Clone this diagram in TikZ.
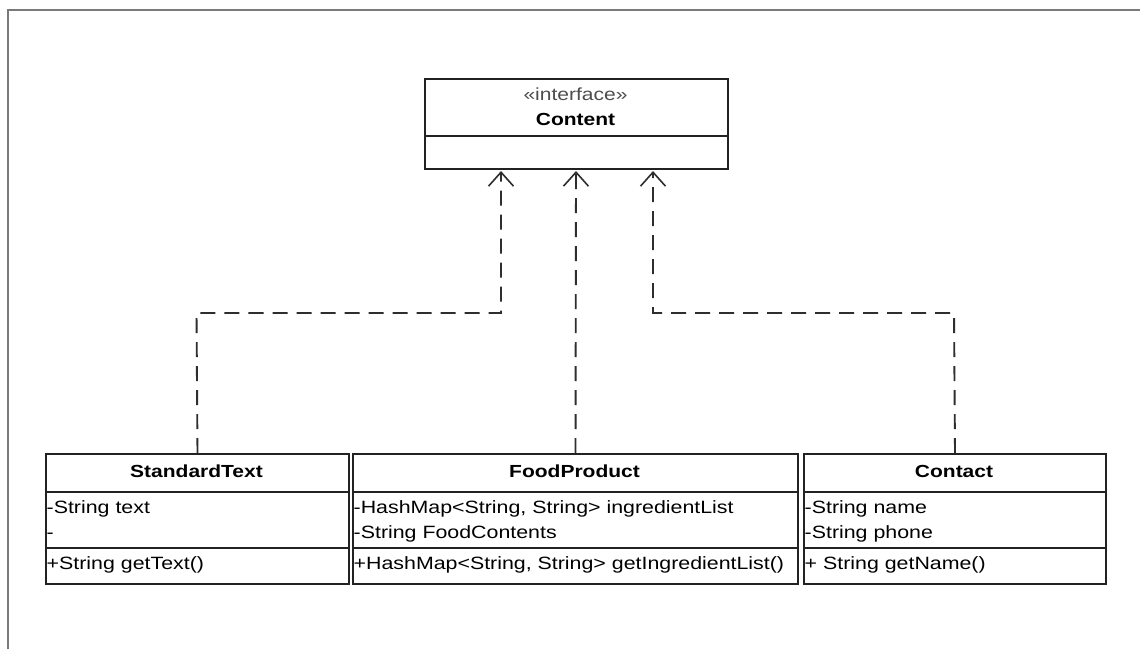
\documentclass[tikz,border=0pt]{standalone}
\usepackage{fontspec}
\setmainfont{Liberation Sans}[FakeStretch=1.2]
\usetikzlibrary{arrows.meta}
\definecolor{boxc}{HTML}{222222}
\definecolor{framec}{HTML}{7A7A7A}
\definecolor{depc}{HTML}{2E2E2E}
\begin{document}
\begin{tikzpicture}[x=1pt,y=-1pt,
  box/.style={draw=boxc, line width=2pt, anchor=north west, inner sep=0pt, fill=white},
  sep/.style={draw=boxc, line width=1.8pt},
  mem/.style={anchor=base west, inner sep=0pt, font=\fontsize{17.8}{20}\selectfont},
  ttl/.style={anchor=base, inner sep=0pt, font=\fontsize{17.5}{20}\selectfont\bfseries},
  stereo/.style={anchor=base, inner sep=0pt, font=\fontsize{17.5}{20}\selectfont\color{depc!85!white}},
  dep/.style={draw=depc, line width=1.9pt, dash pattern=on 15pt off 9pt,
    -{Straight Barb[length=14pt,width=25pt,line width=1.6pt]}},
  frame/.style={draw=framec, line width=2.6pt}]
\useasboundingbox (0,0) rectangle (1140,649);
\fill[white] (0,0) rectangle (1140,649);
\draw[frame] (8,649) -- (8,10) -- (1140,10);

% Content interface
\node[box, minimum width=303pt, minimum height=90pt] (cn) at (424,78) {};
\draw[sep] ([yshift=-58pt]cn.north west) -- ([yshift=-58pt]cn.north east);
\node[stereo] (cns) at (575.5,100) {«interface»};
\node[ttl] (cnt) at (575.5,125) {Content};

% StandardText
\node[box, minimum width=303pt, minimum height=130pt] (st) at (45,453) {};
\draw[sep] ([yshift=-39pt]st.north west) -- ([yshift=-39pt]st.north east);
\draw[sep] ([yshift=-95pt]st.north west) -- ([yshift=-95pt]st.north east);
\node[ttl] (stt) at (196.5,477) {StandardText};
\node[mem] (st1) at (46.5,513) {-String text};
\node[mem] (st2) at (46.5,538) {-};
\node[mem] (st3) at (46.5,569) {+String getText()};

% FoodProduct
\node[box, minimum width=445pt, minimum height=130pt] (fp) at (352,453) {};
\draw[sep] ([yshift=-39pt]fp.north west) -- ([yshift=-39pt]fp.north east);
\draw[sep] ([yshift=-95pt]fp.north west) -- ([yshift=-95pt]fp.north east);
\node[ttl] (fpt) at (574.5,477) {FoodProduct};
\node[mem] (fp1) at (353.5,513) {-HashMap<String, String> ingredientList};
\node[mem] (fp2) at (353.5,538) {-String FoodContents};
\node[mem] (fp3) at (353.5,569) {+HashMap<String, String> getIngredientList()};

% Contact
\node[box, minimum width=302pt, minimum height=130pt] (ct) at (803,453) {};
\draw[sep] ([yshift=-39pt]ct.north west) -- ([yshift=-39pt]ct.north east);
\draw[sep] ([yshift=-95pt]ct.north west) -- ([yshift=-95pt]ct.north east);
\node[ttl] (ctt) at (954,477) {Contact};
\node[mem] (ct1) at (804.5,513) {-String name};
\node[mem] (ct2) at (804.5,538) {-String phone};
\node[mem] (ct3) at (804.5,569) {+ String getName()};

% connectors
\coordinate (a1) at ([xshift=-75.5pt, yshift=-1pt]cn.south);
\coordinate (a2) at ([xshift=-0.5pt, yshift=-1pt]cn.south);
\coordinate (a3) at ([xshift=76.5pt, yshift=-1pt]cn.south);
\coordinate (b1) at (196.5,313);
\coordinate (b3) at (954,313);
\draw[dep] (st.north) -- (b1) -| (a1);
\draw[dep] (fp.north) -- (a2);
\draw[dep] (ct.north) -- (b3) -| (a3);
\end{tikzpicture}
\end{document}
